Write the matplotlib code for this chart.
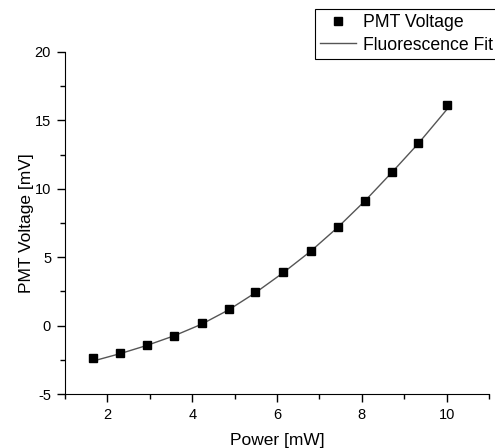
import matplotlib
matplotlib.use('Agg')
import matplotlib.pyplot as plt
from matplotlib.ticker import MultipleLocator

plt.rcParams['font.family'] = ['Liberation Sans', 'DejaVu Sans']
plt.rcParams['axes.unicode_minus'] = False

# measured PMT voltage vs laser power
power = [1.65, 2.30, 2.93, 3.57, 4.22, 4.86, 5.49, 6.14, 6.80, 7.44, 8.07, 8.71, 9.33, 10.02]
pmt = [-2.36, -1.97, -1.39, -0.73, 0.22, 1.22, 2.48, 3.90, 5.47, 7.18, 9.12, 11.24, 13.36, 16.16]
# fluorescence fit
fit = [-2.60, -2.05, -1.45, -0.75, 0.10, 1.15, 2.40, 3.85, 5.45, 7.20, 9.10, 11.20, 13.30, 15.85]

fig = plt.figure(figsize=(4.95, 4.48), dpi=100)
ax = fig.add_axes([65 / 495, 1 - 394 / 448, 424 / 495, 342 / 448])

ax.plot(power, pmt, 's', color='black', markersize=5.5, label='PMT Voltage', zorder=3)
ax.plot(power, fit, '-', color='#555555', lw=1.0, label='Fluorescence Fit')

ax.set_xlim(1, 11)
ax.set_ylim(-5, 20)
ax.xaxis.set_major_locator(MultipleLocator(2))
ax.xaxis.set_minor_locator(MultipleLocator(1))
ax.yaxis.set_major_locator(MultipleLocator(5))
ax.yaxis.set_minor_locator(MultipleLocator(2.5))
ax.spines['top'].set_visible(False)
ax.spines['right'].set_visible(False)
ax.tick_params(which='major', direction='out', length=6, width=1, labelsize=10.5, pad=4)
ax.tick_params(which='minor', direction='out', length=3.5, width=1)

ax.set_xlabel('Power [mW]', fontsize=12.5, labelpad=8)
ax.set_ylabel('PMT Voltage [mV]', fontsize=12.5, labelpad=0.5)

# legend frame runs past the right edge of the figure, as in the original
leg = ax.legend(loc='upper left',
                bbox_to_anchor=(315 / 495, 1 - 56 / 448, 215 / 495, 47 / 448),
                bbox_transform=fig.transFigure, mode='expand', fontsize=12.7,
                frameon=True, fancybox=False, edgecolor='black', framealpha=1,
                borderpad=0.3, handlelength=2.0, handletextpad=0.4,
                labelspacing=0.3, borderaxespad=0)
leg.get_frame().set_linewidth(0.8)

fig.savefig('out.png', dpi=100)
